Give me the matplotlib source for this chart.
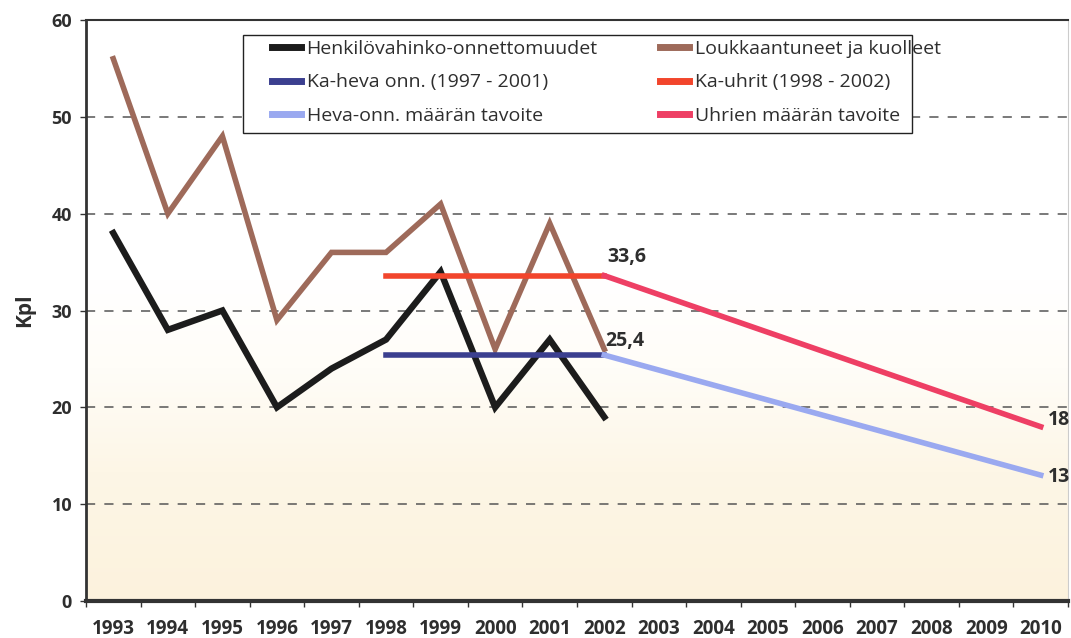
import numpy as np
import matplotlib
matplotlib.use("Agg")
import matplotlib.pyplot as plt
from matplotlib.colors import LinearSegmentedColormap
from matplotlib.lines import Line2D
from matplotlib.patches import Rectangle

plt.rcParams['font.family'] = ['Open Sans', 'DejaVu Sans']

# --- data -------------------------------------------------------------
years = [str(y) for y in range(1993, 2011)]
observed_years = years[:10]            # 1993 - 2002
injury_accidents = [38, 28, 30, 20, 24, 27, 34, 20, 27, 19]
casualties = [56, 40, 48, 29, 36, 36, 41, 26, 39, 26]

avg_span = ["1998", "2002"]
avg_accidents = 25.4
avg_casualties = 33.6

target_span = ["2002", "2010"]
target_accidents = [25.4, 13]
target_casualties = [33.6, 18]

yticks = [0, 10, 20, 30, 40, 50, 60]

series_labels = [
    "Henkilövahinko-onnettomuudet", "Loukkaantuneet ja kuolleet",
    "Ka-heva onn. (1997 - 2001)", "Ka-uhrit (1998 - 2002)",
    "Heva-onn. määrän tavoite", "Uhrien määrän tavoite",
]

# --- styling ----------------------------------------------------------
c_black = "#1c1c1c"
c_brown = "#9e6a5a"
c_navy = "#3b3f8f"
c_orange = "#f2452c"
c_lightblue = "#9aa9f0"
c_pink = "#ee3f64"
c_text = "#2e2e2e"
lw = 4.0

fig = plt.figure(figsize=(10.71, 6.38), dpi=100)
ax = fig.add_axes([86 / 1071, 37 / 638, 982 / 1071, 581 / 638])

idx = {y: i for i, y in enumerate(years)}

# soft white-to-cream background inside the plot area
cmap = LinearSegmentedColormap.from_list(
    "bg", [(0.0, "#fcf2dd"), (0.22, "#fdf6e6"), (0.40, "#fffdf8"), (0.55, "#ffffff"), (1.0, "#ffffff")])
grad = np.linspace(0, 1, 256).reshape(-1, 1)
ax.imshow(grad, cmap=cmap, origin="lower", aspect="auto",
          extent=[0, 1, 0, 1], transform=ax.transAxes, zorder=0)

xs_obs = [idx[y] for y in observed_years]
ax.plot(xs_obs, casualties, color=c_brown, lw=lw, solid_joinstyle="miter", zorder=3)
ax.plot(xs_obs, injury_accidents, color=c_black, lw=lw + 0.6, solid_joinstyle="miter", zorder=3)

xa = [idx[y] for y in avg_span]
ax.plot(xa, [avg_accidents] * 2, color=c_navy, lw=lw, zorder=4)
ax.plot(xa, [avg_casualties] * 2, color=c_orange, lw=lw, zorder=4)

xt = [idx[y] for y in target_span]
ax.plot(xt, target_accidents, color=c_lightblue, lw=lw, zorder=4, clip_on=False)
ax.plot(xt, target_casualties, color=c_pink, lw=lw, zorder=4, clip_on=False)

# value labels
bold = dict(fontsize=14, fontweight="bold", color=c_text)
ax.annotate(f"{avg_casualties:.1f}".replace(".", ","), (idx["2002"], avg_casualties),
            xytext=(2, 6), textcoords="offset points", ha="left", va="bottom", **bold)
ax.annotate(f"{avg_accidents:.1f}".replace(".", ","), (idx["2002"], avg_accidents),
            xytext=(1, 3), textcoords="offset points", ha="left", va="bottom", **bold)
ax.annotate(f"{target_casualties[-1]:g}", (idx["2010"], target_casualties[-1]),
            xytext=(5, 5), textcoords="offset points", ha="left", va="center",
            annotation_clip=False, **bold)
ax.annotate(f"{target_accidents[-1]:g}", (idx["2010"], target_accidents[-1]),
            xytext=(5, -1), textcoords="offset points", ha="left", va="center",
            annotation_clip=False, **bold)

# axes
ax.set_xlim(-0.5, len(years) - 0.5)
ax.set_ylim(0, 60)
ax.set_yticks(yticks)
ax.set_yticklabels([str(v) for v in yticks], fontsize=13, fontweight="bold", color=c_text)
ax.set_xticks(range(len(years)))
ax.set_xticklabels(years, fontsize=13.5, fontweight="bold", color=c_text)
ax.set_xticks(np.arange(-0.5, len(years)), minor=True)
ax.tick_params(axis="x", which="major", length=0, pad=13)
ax.tick_params(axis="x", which="minor", length=4, width=1, color="#333333", direction="out")
ax.tick_params(axis="y", length=4, width=1, color="#333333", pad=6)
ax.set_ylabel("Kpl", fontsize=15, fontweight="bold", color=c_text, labelpad=12)

for y in yticks[1:-1]:
    ax.axhline(y, color="#555555", lw=1.1, ls=(0, (6, 6)), zorder=1)

ax.spines["bottom"].set_linewidth(3)
ax.spines["left"].set_linewidth(2)
ax.spines["top"].set_linewidth(1.5)
ax.spines["right"].set_linewidth(0.8)
for s in ax.spines.values():
    s.set_color("#333333")
ax.spines["right"].set_color("#cccccc")

# legend: frame drawn separately so the side padding can be wider than the top
frame = Rectangle((0.160, 0.8055), 0.681, 0.1687, transform=ax.transAxes,
                  facecolor="white", edgecolor="#222222", lw=1.0, zorder=5)
ax.add_patch(frame)

colors = [c_black, c_brown, c_navy, c_orange, c_lightblue, c_pink]
handles = [Line2D([], [], color=c, lw=5) for c in colors]
order = [0, 2, 4, 1, 3, 5]
leg = ax.legend([handles[i] for i in order], [series_labels[i] for i in order],
                ncol=2, loc="upper left", bbox_to_anchor=(0.189, 0.966),
                fontsize=14, frameon=False, handlelength=1.5, handletextpad=0.3,
                columnspacing=3.2, labelspacing=0.8, borderpad=0,
                borderaxespad=0)
for t in leg.get_texts():
    t.set_color(c_text)
leg.set_zorder(6)

fig.savefig("out.png", dpi=100)
